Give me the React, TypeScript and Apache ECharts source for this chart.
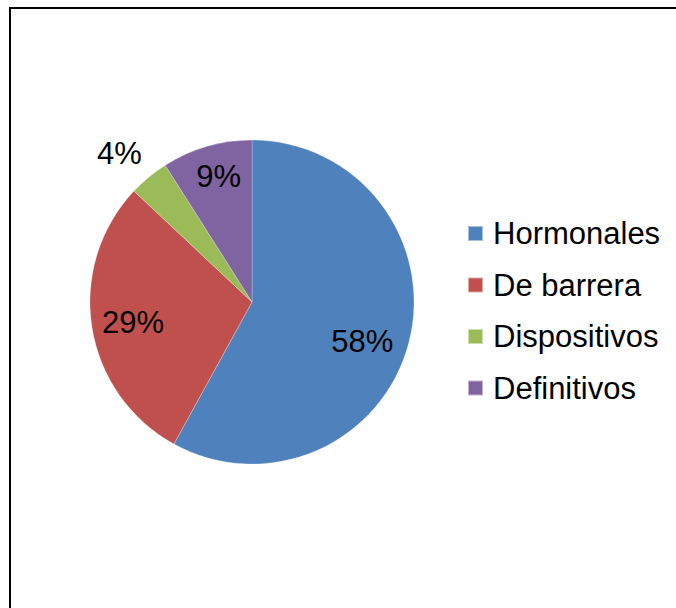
import React, { useEffect, useRef } from "react";
import * as echarts from "echarts";

const categories = ["Hormonales", "De barrera", "Dispositivos", "Definitivos"];
const values = [58, 29, 4, 9];
const colors = ["#4F81BD", "#C0504D", "#9BBB59", "#8064A2"];
const labelOffsets = [
  [29, 19],
  [-36, 7],
  [-79, -84],
  [-10, -45],
];

export default function App() {
  const ref = useRef<HTMLDivElement>(null);
  useEffect(() => {
    if (!ref.current) return;
    const chart = echarts.init(ref.current, null, { renderer: "svg" });
    const font = "'Liberation Sans', Arial, sans-serif";
    chart.setOption({
      animation: false,
      backgroundColor: "#ffffff",
      color: colors,
      legend: {
        orient: "vertical",
        left: 467,
        top: 218,
        padding: 0,
        itemWidth: 15,
        itemHeight: 15,
        itemGap: 20.5,
        icon: "rect",
        data: categories,
        textStyle: {
          fontSize: 31,
          fontFamily: font,
          color: "#000",
          lineHeight: 31,
          padding: [0, 0, 0, 5],
        },
      },
      graphic: [
        {
          type: "rect",
          shape: { x: 10, y: 8, width: 800, height: 800 },
          style: { fill: "none", stroke: "#000", lineWidth: 2 },
          silent: true,
        },
      ],
      series: [
        {
          type: "pie",
          center: [252, 302],
          radius: [0, 162],
          startAngle: 90,
          clockwise: true,
          avoidLabelOverlap: false,
          labelLine: { show: false },
          itemStyle: { borderColor: "rgba(255,255,255,0.5)", borderWidth: 0.5 },
          label: {
            show: true,
            position: "inside",
            formatter: "{d}%",
            fontSize: 31,
            fontFamily: font,
            color: "#000",
          },
          data: categories.map((name, i) => ({
            name,
            value: values[i],
            label: { offset: labelOffsets[i] },
          })),
        },
      ],
    });
    return () => chart.dispose();
  }, []);
  return (
    <div
      ref={ref}
      style={{ position: "absolute", left: 0, top: 0, width: 676, height: 608 }}
    />
  );
}
